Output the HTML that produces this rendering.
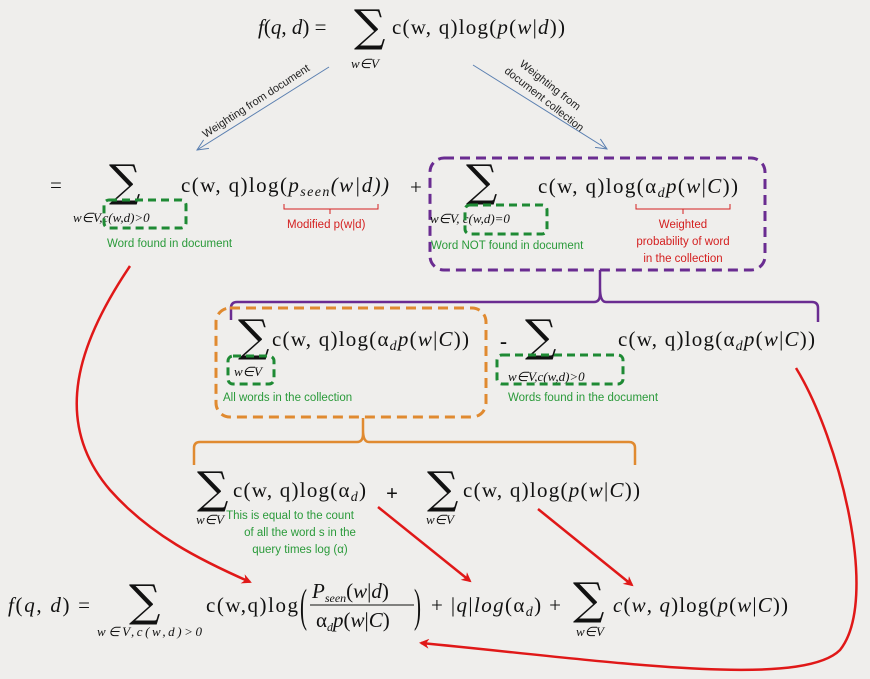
<!DOCTYPE html>
<html><head><meta charset="utf-8"><style>
html,body{margin:0;padding:0;background:#efeeec;}
svg{display:block}
.m{font-family:"Liberation Serif","DejaVu Serif",serif;font-size:21px;fill:#111}
.i{font-style:italic}
.s{font-family:"Liberation Serif",serif;font-size:13px;font-style:italic;fill:#111}
.sig{font-family:"DejaVu Serif",serif;font-size:44px;fill:#111}
.g{font-family:"Liberation Sans",sans-serif;font-size:11.5px;fill:#2a9a3a}
.r{font-family:"Liberation Sans",sans-serif;font-size:11.5px;fill:#d42020}
.b{font-family:"Liberation Sans",sans-serif;font-size:11px;fill:#222}
</style></head><body>
<svg width="870" height="679" viewBox="0 0 870 679">
<defs>
<marker id="ar" markerWidth="10" markerHeight="10" refX="8" refY="5" orient="auto" markerUnits="userSpaceOnUse"><path d="M0,0 L10,5 L0,10 L3,5z" fill="#e01818"/></marker>
<marker id="ab" markerWidth="12" markerHeight="12" refX="11" refY="6" orient="auto" markerUnits="userSpaceOnUse"><path d="M0,1 L11,6 L0,11" fill="none" stroke="#5a7fb0" stroke-width="1"/></marker>
</defs>

<!-- top -->
<text class="m" x="258" y="34"><tspan class="i">f</tspan>(<tspan class="i">q</tspan>, <tspan class="i">d</tspan>) =</text>
<text class="sig" x="354" y="41">∑</text>
<text class="s" x="351" y="68">w∈V</text>
<text class="m" x="392" y="34" textLength="173">c(w, q)log(<tspan class="i">p</tspan>(<tspan class="i">w</tspan>|<tspan class="i">d</tspan>))</text>

<line x1="329" y1="67" x2="197" y2="150" stroke="#5a7fb0" stroke-width="1" marker-end="url(#ab)"/>
<line x1="473" y1="65" x2="607" y2="149" stroke="#5a7fb0" stroke-width="1" marker-end="url(#ab)"/>
<text class="b" transform="translate(258,104) rotate(-33)" text-anchor="middle">Weighting from document</text>
<text class="b" transform="translate(548,88) rotate(38)" text-anchor="middle">Weighting from</text>
<text class="b" transform="translate(542,102) rotate(38)" text-anchor="middle">document collection</text>

<!-- row 2 -->
<text class="m" x="50" y="192">=</text>
<text class="sig" x="109" y="196">∑</text>
<text class="s" x="73" y="222">w∈V,c(w,d)&gt;0</text>
<rect x="104" y="200" width="82" height="28" rx="5" fill="none" stroke="#1e8a34" stroke-width="3" stroke-dasharray="8,5"/>
<text class="g" x="107" y="247">Word found in document</text>
<text class="m" x="181" y="192" textLength="208">c(w, q)log(<tspan class="i">p<tspan font-size="14" dy="4">seen</tspan><tspan dy="-4">(w|d))</tspan></tspan></text>
<path d="M284,204 v5 h46 v5 M330,209 h48 v-5" fill="none" stroke="#d42020" stroke-width="1"/>
<text class="r" x="287" y="228">Modified p(w|d)</text>
<text class="m" x="410" y="194">+</text>

<rect x="430" y="158" width="335" height="112" rx="14" fill="none" stroke="#6a2c91" stroke-width="3" stroke-dasharray="10,6"/>
<text class="sig" x="466" y="196">∑</text>
<text class="s" x="430" y="223">w∈V, c(w,d)=0</text>
<rect x="465" y="205" width="82" height="29" rx="5" fill="none" stroke="#1e8a34" stroke-width="3" stroke-dasharray="8,5"/>
<text class="g" x="431" y="249">Word NOT found in document</text>
<text class="m" x="538" y="193" textLength="200">c(w, q)log(α<tspan font-size="14" class="i" dy="4">d</tspan><tspan class="i" dy="-4">p</tspan>(<tspan class="i">w</tspan>|<tspan class="i">C</tspan>))</text>
<path d="M636,204 v5 h47 v5 M683,209 h47 v-5" fill="none" stroke="#d42020" stroke-width="1"/>
<text class="r" x="683" y="228" text-anchor="middle">Weighted</text>
<text class="r" x="683" y="245" text-anchor="middle">probability of word</text>
<text class="r" x="683" y="262" text-anchor="middle">in the collection</text>

<!-- purple bracket -->
<path d="M231,320 v-12 q0,-6 6,-6 h357 q6,0 6,-8 v-24 M600,288 q0,14 6,14 h206 q6,0 6,6 v14" fill="none" stroke="#6a2c91" stroke-width="2.5"/>

<!-- row 3 -->
<rect x="216" y="308" width="270" height="109" rx="14" fill="none" stroke="#e08a30" stroke-width="3" stroke-dasharray="10,6"/>
<text class="sig" x="238" y="351">∑</text>
<text class="s" x="234" y="376">w∈V</text>
<rect x="228" y="356" width="46" height="28" rx="5" fill="none" stroke="#1e8a34" stroke-width="3" stroke-dasharray="8,5"/>
<text class="g" x="223" y="401">All words in the collection</text>
<text class="m" x="272" y="346" textLength="197">c(w, q)log(α<tspan font-size="14" class="i" dy="4">d</tspan><tspan class="i" dy="-4">p</tspan>(<tspan class="i">w</tspan>|<tspan class="i">C</tspan>))</text>
<text class="m" x="500" y="348" font-weight="bold">-</text>
<text class="sig" x="525" y="351">∑</text>
<text class="s" x="508" y="381">w∈V,c(w,d)&gt;0</text>
<rect x="497" y="355" width="126" height="29" rx="5" fill="none" stroke="#1e8a34" stroke-width="3" stroke-dasharray="8,5"/>
<text class="g" x="508" y="401">Words found in the document</text>
<text class="m" x="618" y="346" textLength="197">c(w, q)log(α<tspan font-size="14" class="i" dy="4">d</tspan><tspan class="i" dy="-4">p</tspan>(<tspan class="i">w</tspan>|<tspan class="i">C</tspan>))</text>

<!-- orange bracket -->
<path d="M194,465 v-17 q0,-6 6,-6 h157 q6,0 6,-8 v-16 M363,430 q0,12 6,12 h260 q6,0 6,6 v17" fill="none" stroke="#e08a30" stroke-width="2.5"/>

<!-- row 4 -->
<text class="sig" x="197" y="503">∑</text>
<text class="s" x="196" y="524">w∈V</text>
<text class="m" x="233" y="497" textLength="133">c(w, q)log(α<tspan font-size="14" class="i" dy="4">d</tspan><tspan dy="-4">)</tspan></text>
<text class="g" x="290" y="519" text-anchor="middle">This is equal to  the count</text>
<text class="g" x="300" y="536" text-anchor="middle">of all the word s in the</text>
<text class="g" x="300" y="553" text-anchor="middle">query times log (α)</text>
<text class="m" x="386" y="500" font-size="28" font-weight="bold">+</text>
<text class="sig" x="427" y="503">∑</text>
<text class="s" x="426" y="524">w∈V</text>
<text class="m" x="463" y="497" textLength="177">c(w, q)log(<tspan class="i">p</tspan>(<tspan class="i">w</tspan>|<tspan class="i">C</tspan>))</text>

<!-- bottom -->
<text class="m" x="8" y="612" textLength="82"><tspan class="i">f</tspan>(<tspan class="i">q</tspan>, <tspan class="i">d</tspan>) =</text>
<text class="sig" x="129" y="616">∑</text>
<text class="s" x="97" y="636" textLength="105">w∈V,c(w,d)&gt;0</text>
<text class="m" x="206" y="612" textLength="92">c(w,q)log</text>
<text class="m" font-size="26" transform="translate(300,610) scale(1,2.2)" x="0" y="5">(</text>
<text class="m" x="312" y="598" font-size="19"><tspan class="i">P<tspan font-size="12" dy="4">seen</tspan></tspan><tspan dy="-4">(</tspan><tspan class="i">w</tspan>|<tspan class="i">d</tspan>)</text>
<line x1="310" y1="605" x2="414" y2="605" stroke="#111" stroke-width="1"/>
<text class="m" x="316" y="627" font-size="19">α<tspan font-size="12" class="i" dy="4">d</tspan><tspan class="i" dy="-4">p</tspan>(<tspan class="i">w</tspan>|<tspan class="i">C</tspan>)</text>
<text class="m" font-size="26" transform="translate(414,610) scale(1,2.2)" x="0" y="5">)</text>
<text class="m" x="431" y="612" textLength="130">+ |<tspan class="i">q</tspan>|<tspan class="i">log</tspan>(α<tspan font-size="14" class="i" dy="4">d</tspan><tspan dy="-4">) +</tspan></text>
<text class="sig" x="573" y="614">∑</text>
<text class="s" x="576" y="636">w∈V</text>
<text class="m" x="613" y="612" textLength="175"><tspan class="i">c</tspan>(<tspan class="i">w</tspan>, <tspan class="i">q</tspan>)log(<tspan class="i">p</tspan>(<tspan class="i">w</tspan>|<tspan class="i">C</tspan>))</text>

<!-- red arrows -->
<g fill="none" stroke="#e01818" stroke-width="2.5">
<path d="M130,266 C80,340 50,420 110,490 C150,535 200,560 250,582" marker-end="url(#ar)"/>
<path d="M378,507 L470,581" marker-end="url(#ar)"/>
<path d="M538,509 L632,585" marker-end="url(#ar)"/>
<path d="M796,368 C840,440 880,600 840,650 C800,690 600,660 421,643" marker-end="url(#ar)"/>
</g>
</svg>
</body></html>
